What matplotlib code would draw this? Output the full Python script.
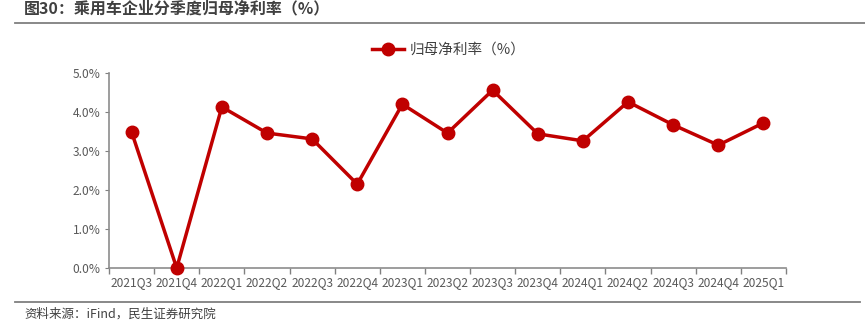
import matplotlib
matplotlib.use("Agg")
from matplotlib import pyplot as plt
from matplotlib.lines import Line2D
from matplotlib.ticker import FuncFormatter

plt.rcParams['font.family'] = ['Noto Sans CJK SC', 'DejaVu Sans']

# data
quarters = ['2021Q3', '2021Q4', '2022Q1', '2022Q2', '2022Q3', '2022Q4', '2023Q1',
            '2023Q2', '2023Q3', '2023Q4', '2024Q1', '2024Q2', '2024Q3', '2024Q4', '2025Q1']
net_margin = [3.49, 0.0, 4.13, 3.46, 3.31, 2.15, 4.20, 3.46, 4.56, 3.44, 3.26, 4.26, 3.67, 3.15, 3.72]
series_name = '归母净利率（%）'
title = '图30：乘用车企业分季度归母净利率（%）'
source = '资料来源：iFind，民生证券研究院'

red = '#C00000'
grey = '#595959'

fig = plt.figure(figsize=(8.65, 3.28), dpi=100)
ax = fig.add_axes([109 / 865, 1 - 268 / 328, (786 - 109) / 865, (268 - 73) / 328])

x = range(len(quarters))
ax.plot(x, net_margin, color=red, linewidth=2.5, marker='o', markersize=9, clip_on=False, zorder=3)

ax.set_xlim(-0.5, len(quarters) - 0.5)
ax.set_ylim(0, 5)
ax.set_yticks([0, 1, 2, 3, 4, 5])
ax.yaxis.set_major_formatter(FuncFormatter(lambda v, p: '%.1f%%' % v))
ax.set_xticks(list(x))
ax.set_xticklabels(quarters)
ax.set_xticks([i - 0.5 for i in range(len(quarters) + 1)], minor=True)
ax.tick_params(axis='x', which='major', length=0, pad=6, labelsize=8.6, labelcolor=grey)
ax.tick_params(axis='x', which='minor', length=4, color='#808080', width=1)
ax.tick_params(axis='y', length=3, color='#808080', labelsize=8.6, labelcolor=grey, pad=3)

for s in ['top', 'right']:
    ax.spines[s].set_visible(False)
for s in ['left', 'bottom']:
    ax.spines[s].set_color('#8c8c8c')
    ax.spines[s].set_linewidth(1.2)

handle = Line2D([], [], color=red, linewidth=2.5, marker='o', markersize=9)
fig.legend([handle], [series_name], loc='center', bbox_to_anchor=(449 / 865, 1 - 50 / 328),
           frameon=False, fontsize=10.5, handlelength=2.2, handletextpad=0.4, labelcolor='#404040')

# title, rules and source
fig.text(24 / 865, 1 - 8 / 328, title, fontsize=11.5, fontweight='bold', color='#404040', va='center', ha='left')
fig.add_artist(Line2D([15 / 865, 1], [1 - 23 / 328, 1 - 23 / 328], color='#7f7f7f', linewidth=1.3))
fig.add_artist(Line2D([15 / 865, 860 / 865], [1 - 302 / 328, 1 - 302 / 328], color='#7f7f7f', linewidth=1.3))
fig.text(24 / 865, 1 - 314 / 328, source, fontsize=9, color='#404040', va='center', ha='left')

fig.savefig('out.png', dpi=100)
plt.close()
